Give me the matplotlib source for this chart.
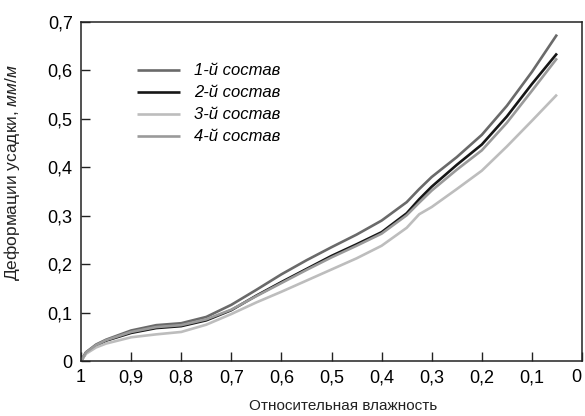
import matplotlib
matplotlib.use("Agg")
import matplotlib.pyplot as plt
from matplotlib.transforms import ScaledTranslation

plt.rcParams['font.family'] = ['Liberation Sans', 'DejaVu Sans']
plt.rcParams['mathtext.fontset'] = 'custom'
plt.rcParams['mathtext.it'] = 'Liberation Sans:italic'
plt.rcParams['mathtext.rm'] = 'Liberation Sans'

# относительная влажность
humidity = [1.0, 0.99, 0.97, 0.95, 0.9, 0.85, 0.8, 0.75, 0.7, 0.65, 0.6,
            0.55, 0.5, 0.45, 0.4, 0.35, 0.325, 0.3, 0.25, 0.2, 0.15, 0.1, 0.05]

# деформации усадки, мм/м
sostav_1 = [0, 0.018, 0.034, 0.044, 0.063, 0.074, 0.078, 0.091, 0.116, 0.147, 0.179,
            0.208, 0.235, 0.261, 0.290, 0.328, 0.355, 0.380, 0.421, 0.467, 0.527, 0.597, 0.674]
sostav_2 = [0, 0.017, 0.032, 0.042, 0.058, 0.068, 0.072, 0.084, 0.105, 0.135, 0.163,
            0.190, 0.217, 0.241, 0.266, 0.305, 0.334, 0.360, 0.405, 0.447, 0.505, 0.572, 0.635]
sostav_3 = [0, 0.015, 0.028, 0.036, 0.049, 0.055, 0.060, 0.075, 0.097, 0.121, 0.143,
            0.166, 0.189, 0.212, 0.238, 0.275, 0.303, 0.318, 0.355, 0.393, 0.443, 0.496, 0.550]
sostav_4 = [0, 0.018, 0.033, 0.043, 0.060, 0.070, 0.074, 0.086, 0.106, 0.134, 0.161,
            0.188, 0.214, 0.238, 0.263, 0.301, 0.327, 0.352, 0.395, 0.435, 0.492, 0.558, 0.625]

names = ['1-й состав', '2-й состав', '3-й состав', '4-й состав']
colors = ['#6a6a6a', '#161616', '#bdbdbd', '#9a9a9a']

xticks = [1, 0.9, 0.8, 0.7, 0.6, 0.5, 0.4, 0.3, 0.2, 0.1, 0]
xtick_labels = ['1', '0,9', '0,8', '0,7', '0,6', '0,5', '0,4', '0,3', '0,2', '0,1', '0']
yticks = [0, 0.1, 0.2, 0.3, 0.4, 0.5, 0.6, 0.7]
ytick_labels = ['0', '0,1', '0,2', '0,3', '0,4', '0,5', '0,6', '0,7']

fig = plt.figure(figsize=(5.85, 4.16), dpi=100)
ax = fig.add_axes([0.1385, 0.1322, 0.8564, 0.8149])

for ys, name, c in zip([sostav_1, sostav_2, sostav_3, sostav_4], names, colors):
    ax.plot(humidity, ys, color=c, lw=1.9, label=name, solid_capstyle='butt')

ax.set_xlim(1, 0)
ax.set_ylim(0, 0.7)
ax.set_xticks(xticks)
ax.set_xticklabels(xtick_labels)
ax.set_yticks(yticks)
ax.set_yticklabels(ytick_labels)
ax.tick_params(direction='in', length=6.5, width=1, labelsize=13, pad=6, color='#222222')
for sp in ax.spines.values():
    sp.set_linewidth(1.1)
    sp.set_color('#222222')

# последняя подпись "0" упирается в край рисунка - сдвигаем чуть влево
last = ax.get_xticklabels()[-1]
last.set_transform(last.get_transform() + ScaledTranslation(-4 / 72, 0, fig.dpi_scale_trans))

ax.set_xlabel('Относительная влажность', fontsize=11, color='#222222')
ax.xaxis.set_label_coords(0.523, -0.112)
ax.set_ylabel('Деформации усадки, $\\mathit{мм/м}$', fontsize=12.5, color='#222222')
ax.yaxis.set_label_coords(-0.117, 0.557)

leg = ax.legend(loc='upper left', bbox_to_anchor=(0.112, 0.878), frameon=False,
                prop={'style': 'italic', 'size': 12}, handlelength=2.6,
                handletextpad=0.8, labelspacing=0.42, borderpad=0, borderaxespad=0)

fig.savefig('out.png', dpi=100)
